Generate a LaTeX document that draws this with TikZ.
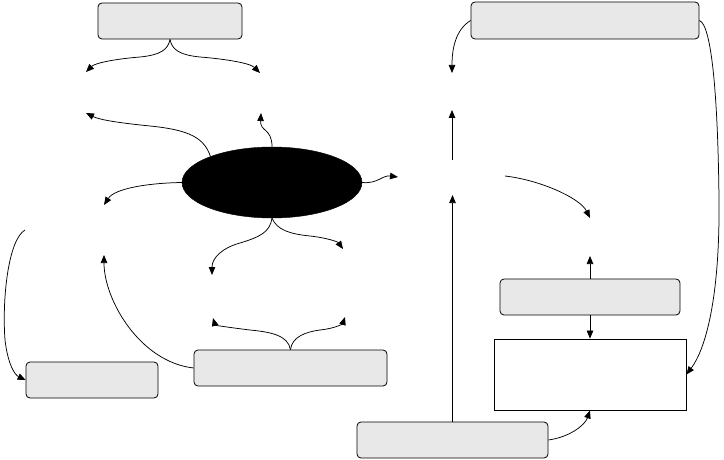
\documentclass[tikz,border=0pt]{standalone}
\usetikzlibrary{arrows.meta,shapes.geometric}
\definecolor{boxgray}{HTML}{E8E8E8}
\tikzset{
  rbox/.style={draw, fill=boxgray, rounded corners=4pt, inner sep=0pt, line width=0.8pt},
  pbox/.style={draw, fill=white, inner sep=0pt, line width=0.8pt},
  conn/.style={line width=0.75pt, -{Triangle[length=8pt,width=6.5pt]}},
}
\begin{document}
\begin{tikzpicture}[x=1pt,y=-1pt]
\useasboundingbox (0,0) rectangle (724,460);
% nodes
\node[rbox, minimum width=144pt, minimum height=36pt] (tl) at (170,21) {};
\node[rbox, minimum width=228pt, minimum height=37pt] (tr) at (585,20.5) {};
\node[draw, fill=black, ellipse, inner sep=0pt, minimum width=180pt, minimum height=71pt] (el) at (272,182.5) {};
\node[rbox, minimum width=132pt, minimum height=36pt] (bl) at (92,380) {};
\node[rbox, minimum width=193pt, minimum height=36pt] (bm) at (290.5,368) {};
\node[rbox, minimum width=180pt, minimum height=36pt] (rm) at (590,297) {};
\node[pbox, minimum width=192pt, minimum height=71pt] (rr) at (590,374.5) {};
\node[rbox, minimum width=191pt, minimum height=36pt] (bb) at (452.5,440) {};
% free ends
\coordinate (a1) at (86,72);
\coordinate (a2) at (260,73);
\coordinate (b1) at (86,113);
\coordinate (c1) at (261,113);
\coordinate (d1) at (104,205);
\coordinate (e1) at (398,177);
\coordinate (f1) at (212,275);
\coordinate (f2) at (343,249);
\coordinate (g1) at (213,318);
\coordinate (g2) at (345,317);
\coordinate (h1) at (104,255);
\coordinate (i0) at (25,230);
\coordinate (j1) at (452,73);
\coordinate (k0) at (452,160);
\coordinate (k1) at (452,110);
\coordinate (l0) at (505,176);
\coordinate (l1) at (590,218);
\coordinate (m1) at (452.5,195);
\coordinate (o1) at (590,256);
% connectors
\draw[conn] (tl.south) .. controls (168,50) and (160,55) .. (140,57) .. controls (115,59) and (95,63) .. (a1);
\draw[conn] (tl.south) .. controls (172,50) and (180,55) .. (200,57) .. controls (225,59) and (250,63) .. (a2);
\draw[conn] (el.157) .. controls (204,138) and (190,130) .. (150,126) .. controls (120,123) and (100,120) .. (b1);
\draw[conn] (el.north) .. controls (272,128) and (260,132) .. (c1);
\draw[conn] (el.west) .. controls (150,183) and (115,188) .. (d1);
\draw[conn] (el.east) .. controls (378,184) and (382,175) .. (e1);
\draw[conn] (el.south) .. controls (270,232) and (260,237) .. (240,243) .. controls (222,248) and (212,258) .. (f1);
\draw[conn] (el.south) .. controls (277,230) and (290,234) .. (310,236) .. controls (328,238) and (338,242) .. (f2);
\draw[conn] (bm.north) .. controls (288,335) and (270,332) .. (250,330) .. controls (225,327) and (215,325) .. (g1);
\draw[conn] (bm.north) .. controls (292,337) and (305,332) .. (320,330) .. controls (338,328) and (343,323) .. (g2);
\draw[conn] (bm.west) .. controls (140,362) and (104,300) .. (h1);
\draw[conn] (i0) .. controls (8,240) and (2,300) .. (5,340) .. controls (8,365) and (15,375) .. (bl.west);
\draw[conn] (tr.west) .. controls (455,30) and (452,50) .. (j1);
\draw[conn] (k0) -- (k1);
\draw[conn] (l0) .. controls (540,180) and (580,198) .. (l1);
\draw[conn] (bb.north -| m1) -- (m1);
\draw[conn] (tr.east) .. controls (712,25) and (718,100) .. (719,200) .. controls (720,300) and (705,350) .. (rr.east);
\draw[conn] (rm.north) -- (o1);
\draw[conn] (rm.south) -- (rr.north);
\draw[conn] (bb.east) .. controls (570,437) and (585,425) .. (rr.south);
\end{tikzpicture}
\end{document}
